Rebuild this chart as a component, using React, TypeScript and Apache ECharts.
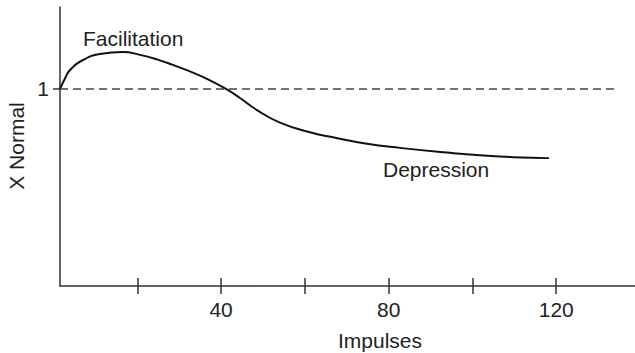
import React, { useEffect, useRef } from "react";
import * as echarts from "echarts";

// Curve
const impulses = [1.55, 2.74, 3.94, 7.04, 11.1, 16.59, 20.64, 24.7, 28.52, 32.58, 36.63, 41.18, 44.51, 48.57, 54.06, 61.22, 66.71, 74.82, 82.7, 93.91, 101.79, 109.67, 118.26];
const ratio = [1.0, 1.053, 1.096, 1.147, 1.178, 1.188, 1.173, 1.15, 1.122, 1.089, 1.051, 1.0, 0.954, 0.893, 0.829, 0.78, 0.755, 0.722, 0.701, 0.677, 0.663, 0.654, 0.649];

// Reference (normal = 1) dashed line
const refX = [1.55, 134.7];
const refY = [1, 1];

// Axis ticks and labels
const xTickValues = [20, 40, 60, 80, 100, 120];
const xLabelValues = [40, 80, 120];
const yLabelValues = [1];

const X_MIN = 1.55;
const X_MAX = 138.8;
const Y_MIN = 0;
const Y_MAX = 1.416;

const FONT = "'Liberation Sans', Arial, Helvetica, sans-serif";
const FS = 21;
const TEXT = "#222";
const AXIS = "#333";

export default function App() {
  const ref = useRef<HTMLDivElement>(null);
  useEffect(() => {
    document.body.style.margin = "0";
    if (!ref.current) return;
    const chart = echarts.init(ref.current, undefined, { renderer: "svg" });
    const axisCommon = {
      type: "value" as const,
      min: X_MIN,
      max: X_MAX,
      splitLine: { show: false },
    };
    chart.setOption({
      animation: false,
      backgroundColor: "#fff",
      textStyle: { fontFamily: FONT },
      grid: { left: 60, right: 0, top: 7, bottom: 67 },
      xAxis: [
        {
          ...axisCommon,
          axisLine: { show: true, onZero: false, lineStyle: { color: AXIS, width: 1.5 } },
          axisTick: { show: true, inside: false, length: 8, customValues: xTickValues, lineStyle: { color: AXIS, width: 1.5 } },
          axisLabel: { show: true, customValues: xLabelValues, margin: 13, fontSize: FS, color: TEXT, fontFamily: FONT },
        },
        {
          ...axisCommon,
          position: "bottom",
          axisLine: { show: false, onZero: false },
          axisTick: { show: true, inside: true, length: 8, customValues: xTickValues, lineStyle: { color: AXIS, width: 1.5 } },
          axisLabel: { show: false },
        },
      ],
      yAxis: {
        type: "value",
        min: Y_MIN,
        max: Y_MAX,
        splitLine: { show: false },
        axisLine: { show: true, onZero: false, lineStyle: { color: AXIS, width: 1.5 } },
        axisTick: { show: true, length: 7, customValues: yLabelValues, lineStyle: { color: AXIS, width: 1.5 } },
        axisLabel: { show: true, customValues: yLabelValues, margin: 11, fontSize: FS, color: TEXT, fontFamily: FONT },
      },
      series: [
        {
          type: "line",
          xAxisIndex: 0,
          data: refX.map((x, i) => [x, refY[i]]),
          symbol: "none",
          lineStyle: { color: "#444", width: 1.5, type: [8, 5] },
          silent: true,
        },
        {
          type: "line",
          xAxisIndex: 0,
          data: impulses.map((x, i) => [x, ratio[i]]),
          symbol: "none",
          smooth: 0.5,
          lineStyle: { color: "#111", width: 2 },
          silent: true,
        },
      ],
      graphic: [
        { type: "text", x: 83, y: 38.5, style: { text: "Facilitation", fontSize: FS, fill: TEXT, fontFamily: FONT, align: "left", verticalAlign: "middle" } },
        { type: "text", x: 383, y: 169.5, style: { text: "Depression", fontSize: FS, fill: TEXT, fontFamily: FONT, align: "left", verticalAlign: "middle" } },
        { type: "text", x: 380, y: 340, style: { text: "Impulses", fontSize: FS, fill: TEXT, fontFamily: FONT, align: "center", verticalAlign: "middle" } },
        { type: "text", x: 16.5, y: 146, rotation: Math.PI / 2, style: { text: "X Normal", fontSize: FS, fill: TEXT, fontFamily: FONT, align: "center", verticalAlign: "middle" } },
      ],
    });
    return () => chart.dispose();
  }, []);
  return <div ref={ref} style={{ width: 635, height: 353, position: "fixed", left: 0, top: 0 }} />;
}
